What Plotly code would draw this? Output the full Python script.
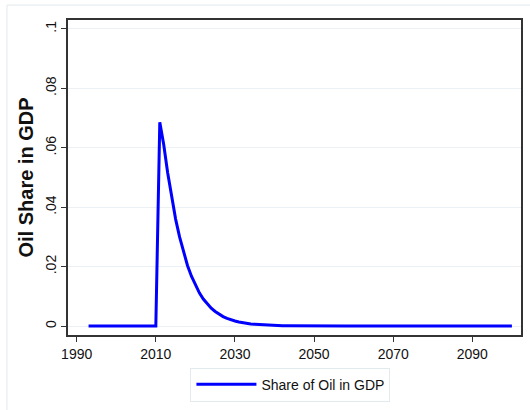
import plotly.graph_objects as go

years = list(range(1993, 2101))

# share of oil in GDP
share_pre = [0, 0, 0, 0, 0, 0, 0, 0, 0, 0, 0, 0, 0, 0, 0, 0, 0, 0]  # 1993-2010
share_boom = [0.0686, 0.0610, 0.0515, 0.0430, 0.0360, 0.0300, 0.0248, 0.0204,
              0.0168, 0.0138, 0.0112, 0.0091, 0.0074, 0.0060, 0.0049, 0.0040,
              0.0032, 0.0026, 0.0021, 0.0017, 0.0014, 0.0011, 0.0009, 0.0007,
              0.0006, 0.0005, 0.0004, 0.0003, 0.00025, 0.0002, 0.00015, 0.0001,
              0.00008, 0.00006, 0.00005]  # 2011-2045
share_tail = [0, 0, 0, 0, 0, 0, 0, 0, 0, 0, 0, 0, 0, 0, 0, 0, 0, 0, 0, 0,
              0, 0, 0, 0, 0, 0, 0, 0, 0, 0, 0, 0, 0, 0, 0, 0, 0, 0, 0, 0,
              0, 0, 0, 0, 0, 0, 0, 0, 0, 0, 0, 0, 0, 0, 0]  # 2046-2100
share = share_pre + share_boom + share_tail

x_ticks = [1990, 2010, 2030, 2050, 2070, 2090]
y_ticks = [0, 0.02, 0.04, 0.06, 0.08, 0.1]
y_tick_text = ["0", ".02", ".04", ".06", ".08", ".1"]

fig = go.Figure()
fig.add_trace(go.Scatter(x=years, y=share, mode="lines", name="Share of Oil in GDP",
                         line=dict(color="#0000ff", width=3)))

fig.update_layout(
    width=530, height=410,
    margin=dict(l=68, r=9, t=20, b=74),
    paper_bgcolor="white", plot_bgcolor="white",
    font=dict(family="Arial, Liberation Sans, sans-serif", size=14, color="#111"),
    showlegend=True,
    legend=dict(orientation="h", x=0.491, xanchor="center", y=-0.1, yanchor="top",
                bordercolor="#e3eaee", borderwidth=1, font=dict(size=14),
                itemwidth=60),
    xaxis=dict(range=[1987.8, 2102.3], tickvals=x_ticks, ticks="outside", ticklen=5,
               tickcolor="#333", showgrid=False, zeroline=False, automargin=False,
               showline=True, linecolor="#333", linewidth=1.5, mirror=True),
    yaxis=dict(range=[-0.003, 0.103], tickvals=y_ticks, ticktext=y_tick_text,
               tickangle=-90, ticks="outside", ticklen=5, tickcolor="#333",
               showgrid=True, gridcolor="#eaf0f3", gridwidth=1, zeroline=False,
               showline=True, linecolor="#333", linewidth=1.5, mirror=True,
               automargin=False,
               title=dict(text="<b>Oil Share in GDP</b>", font=dict(size=20), standoff=4)),
)

# light outer frame of the graph region
fig.add_shape(type="rect", xref="paper", yref="paper",
              x0=-0.1347, x1=1.2, y0=-0.4, y1=1.0475,
              line=dict(color="#e2e9ec", width=1), layer="below")

fig.write_html("out.html", config={"displayModeBar": False},
               post_script="document.body.style.margin='0px';")
